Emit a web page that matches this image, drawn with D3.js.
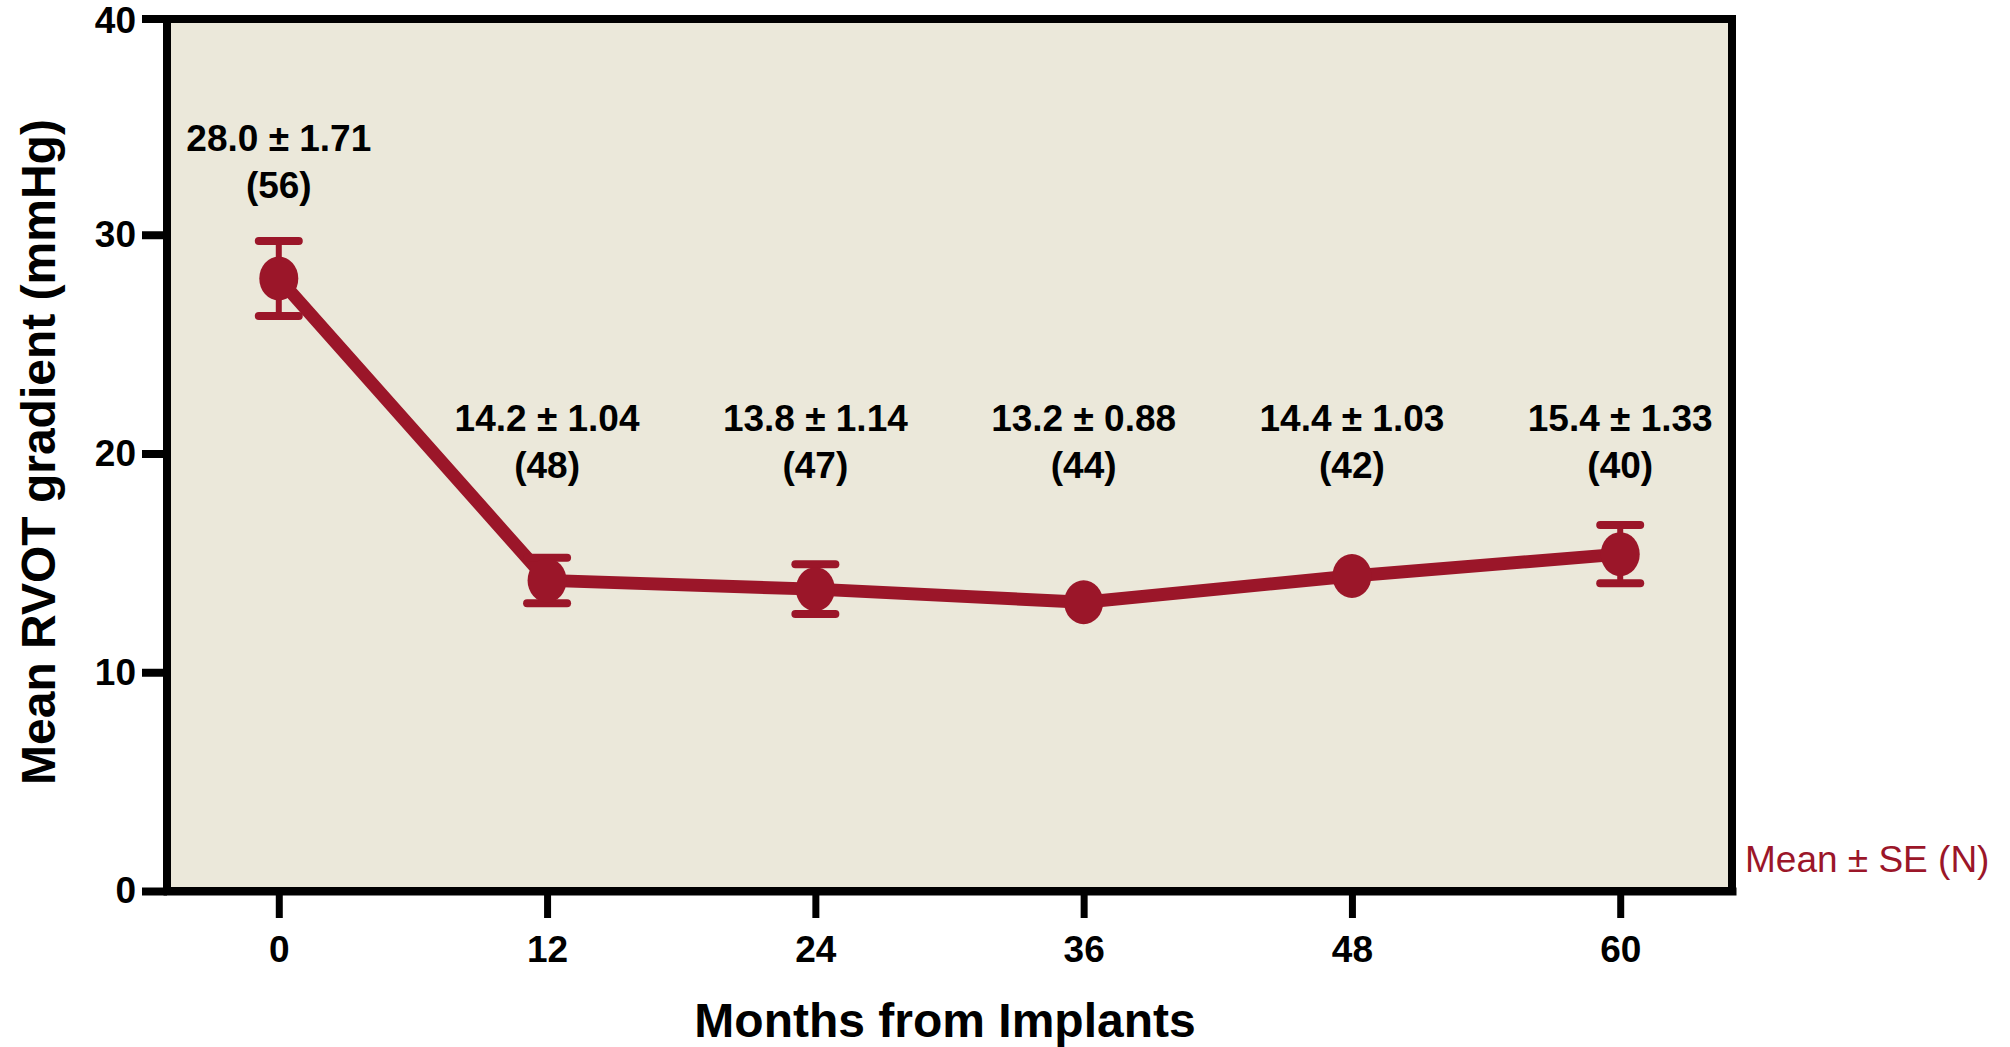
<!DOCTYPE html>
<html>
<head>
<meta charset="utf-8">
<script src="https://cdn.jsdelivr.net/npm/d3@7"></script>
<style>
  body { margin: 0; background: #fff; }
  svg { display: block; font-family: "Liberation Sans", Arial, Helvetica, sans-serif; }
</style>
</head>
<body>
<div id="chart"></div>
<script>
// ---- data ----
const months = [0, 12, 24, 36, 48, 60];
const meanGradient = [28.0, 14.2, 13.8, 13.2, 14.4, 15.4];
const seGradient = [1.71, 1.04, 1.14, 0.88, 1.03, 1.33];
const nPatients = [56, 48, 47, 44, 42, 40];
// error bars as drawn; at 36 and 48 they are hidden behind the markers
const drawnSE = [1.71, 1.04, 1.14, null, null, 1.33];
const yTicks = [0, 10, 20, 30, 40];

const points = months.map((m, i) => ({
  month: m, mean: meanGradient[i], se: seGradient[i], n: nPatients[i], bar: drawnSE[i]
}));

// ---- layout ----
const W = 2010, H = 1047;
const plot = { left: 167, right: 1732, top: 16, bottom: 891 };
const red = "#9b1629";

const x = d3.scaleLinear().domain([-5, 65]).range([plot.left, plot.right]);
const y = d3.scaleLinear().domain([0, 40]).range([plot.bottom, plot.top]);

const svg = d3.select("#chart").append("svg")
  .attr("width", W).attr("height", H);

// plot background + frame
svg.append("rect")
  .attr("x", plot.left).attr("y", plot.top + 3)
  .attr("width", plot.right - plot.left).attr("height", plot.bottom - plot.top - 3)
  .attr("fill", "#ebe8da")
  .attr("stroke", "#000").attr("stroke-width", 8);

// y axis
const yAxis = svg.append("g")
  .attr("transform", `translate(${plot.left},0)`)
  .call(d3.axisLeft(y).tickValues(yTicks).tickSize(25).tickSizeOuter(0).tickPadding(6));
yAxis.select(".domain").attr("stroke-width", 7);
yAxis.selectAll(".tick line").attr("stroke-width", 8);
yAxis.selectAll(".tick text")
  .attr("font-size", 37).attr("font-weight", "bold").attr("fill", "#000")
  .attr("font-family", "Liberation Sans, Arial, sans-serif");
// the 40 tick sits on the top frame line
yAxis.selectAll(".tick").filter(d => d === 40)
  .attr("transform", `translate(0,${plot.top + 3})`);
yAxis.selectAll(".tick").filter(d => d === 40).select("text")
  .attr("dy", "0.38em");

// x axis
const xAxis = svg.append("g")
  .attr("transform", `translate(0,${plot.bottom})`)
  .call(d3.axisBottom(x).tickValues(months).tickSize(27).tickSizeOuter(0).tickPadding(18));
xAxis.select(".domain").attr("stroke-width", 8).attr("stroke-linecap", "square");
xAxis.selectAll(".tick line").attr("stroke-width", 7);
xAxis.selectAll(".tick text")
  .attr("font-size", 37).attr("font-weight", "bold").attr("fill", "#000")
  .attr("font-family", "Liberation Sans, Arial, sans-serif");

// axis titles
svg.append("text")
  .attr("x", 945).attr("y", 1037)
  .attr("text-anchor", "middle")
  .attr("font-size", 48).attr("font-weight", "bold")
  .text("Months from Implants");

svg.append("text")
  .attr("transform", `translate(55,452) rotate(-90)`)
  .attr("text-anchor", "middle")
  .attr("font-size", 48).attr("font-weight", "bold")
  .text("Mean RVOT gradient (mmHg)");

// connecting line
svg.append("path")
  .datum(points)
  .attr("fill", "none")
  .attr("stroke", red)
  .attr("stroke-width", 13)
  .attr("stroke-linejoin", "round")
  .attr("d", d3.line().x(d => x(d.month)).y(d => y(d.mean)));

// error bars
const withBars = points.filter(d => d.bar != null);
svg.selectAll(".stem")
  .data(withBars).enter().append("line")
  .attr("x1", d => x(d.month)).attr("x2", d => x(d.month))
  .attr("y1", d => y(d.mean + d.bar)).attr("y2", d => y(d.mean - d.bar))
  .attr("stroke", red).attr("stroke-width", 6);

const capHalf = 20;
["+", "-"].forEach(sign => {
  svg.selectAll(".cap" + (sign === "+" ? "Top" : "Bottom"))
    .data(withBars).enter().append("line")
    .attr("x1", d => x(d.month) - capHalf).attr("x2", d => x(d.month) + capHalf)
    .attr("y1", d => y(sign === "+" ? d.mean + d.bar : d.mean - d.bar))
    .attr("y2", d => y(sign === "+" ? d.mean + d.bar : d.mean - d.bar))
    .attr("stroke", red).attr("stroke-width", 8).attr("stroke-linecap", "round");
});

// markers
svg.selectAll(".marker")
  .data(points).enter().append("ellipse")
  .attr("cx", d => x(d.month)).attr("cy", d => y(d.mean))
  .attr("rx", 19.5).attr("ry", 22)
  .attr("fill", red);

// value labels: row above the curve, or above the error bar when that is higher
const labelRow = y(18.9);
const labels = svg.selectAll(".label")
  .data(points).enter().append("text")
  .attr("text-anchor", "middle")
  .attr("font-size", 37).attr("font-weight", "bold")
  .attr("transform", d => {
    const base = Math.min(labelRow, y(d.mean + d.se) - 43);
    return `translate(${x(d.month)},${base})`;
  });
labels.append("tspan").attr("x", 0).attr("y", -47)
  .text(d => `${d.mean.toFixed(1)} ± ${d.se.toFixed(2)}`);
labels.append("tspan").attr("x", 0).attr("y", 0)
  .text(d => `(${d.n})`);

// legend note
svg.append("text")
  .attr("x", 1745).attr("y", 872)
  .attr("font-size", 37)
  .attr("fill", red)
  .text("Mean ± SE (N)");
</script>
</body>
</html>
